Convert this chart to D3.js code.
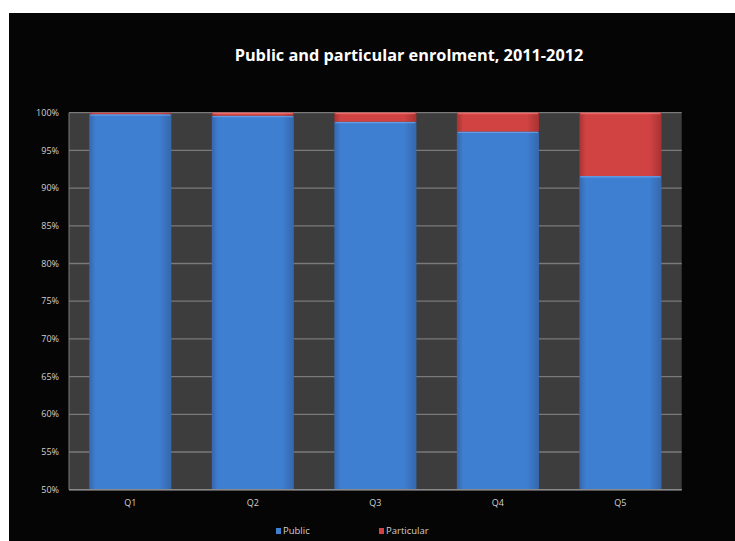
<!DOCTYPE html>
<html>
<head>
<meta charset="utf-8">
<script src="https://cdn.jsdelivr.net/npm/d3@7"></script>
<style>
  html, body { margin: 0; padding: 0; background: #fff; }
  svg text { font-family: "Open Sans", "Liberation Sans", sans-serif; }
</style>
</head>
<body>
<svg id="chart" width="735" height="541"></svg>
<script>
const categories = ["Q1", "Q2", "Q3", "Q4", "Q5"];
const publicShare = [99.8, 99.6, 98.8, 97.5, 91.6];
const particularShare = [0.2, 0.4, 1.2, 2.5, 8.4];
const yTicks = [50, 55, 60, 65, 70, 75, 80, 85, 90, 95, 100];
const seriesNames = ["Public", "Particular"];

const svg = d3.select("svg#chart");

// black card with thin white margin top/left
svg.append("rect")
  .attr("x", 9).attr("y", 13)
  .attr("width", 735 - 9).attr("height", 541 - 13)
  .attr("fill", "#050505");

const plot = { left: 69, top: 112.7, right: 681.7, bottom: 489.7 };

const x = d3.scaleBand()
  .domain(categories)
  .range([plot.left, plot.right])
  .paddingInner(0.33)
  .paddingOuter(0.165);

const y = d3.scaleLinear()
  .domain([50, 100])
  .range([plot.bottom, plot.top]);

// gradients
const defs = svg.append("defs");
function barGradient(id, edge, mid) {
  const g = defs.append("linearGradient").attr("id", id)
    .attr("x1", "0%").attr("x2", "100%").attr("y1", "0%").attr("y2", "0%");
  g.append("stop").attr("offset", "0%").attr("stop-color", edge);
  g.append("stop").attr("offset", "8%").attr("stop-color", mid);
  g.append("stop").attr("offset", "85%").attr("stop-color", mid);
  g.append("stop").attr("offset", "100%").attr("stop-color", edge);
}
barGradient("gradBlue", "#3567ad", "#3f7fd1");
barGradient("gradRed", "#a83232", "#d14343");

// plot background
svg.append("rect")
  .attr("x", plot.left).attr("y", plot.top)
  .attr("width", plot.right - plot.left)
  .attr("height", plot.bottom - plot.top)
  .attr("fill", "#3d3d3d");

// grid lines
svg.append("g").selectAll("line")
  .data(yTicks)
  .enter().append("line")
  .attr("x1", plot.left).attr("x2", plot.right)
  .attr("y1", d => y(d)).attr("y2", d => y(d))
  .attr("stroke", "#7a7a7a")
  .attr("stroke-width", 1.3);

// left axis line
svg.append("line")
  .attr("x1", plot.left).attr("x2", plot.left)
  .attr("y1", plot.top).attr("y2", plot.bottom)
  .attr("stroke", "#7a7a7a").attr("stroke-width", 1);

// y tick labels
svg.append("g").selectAll("text")
  .data(yTicks)
  .enter().append("text")
  .attr("x", plot.left - 10)
  .attr("y", d => y(d))
  .attr("dy", "0.35em")
  .attr("text-anchor", "end")
  .attr("fill", "#d0d0d0")
  .style("font-size", "9px")
  .text(d => d + "%");

// bars
const bars = svg.append("g");
categories.forEach(function(c, i) {
  let bx = x(c), bw = x.bandwidth();
  let p = publicShare[i];
  let q = particularShare[i];
  bars.append("rect")
    .attr("x", bx).attr("y", y(p))
    .attr("width", bw).attr("height", y(50) - y(p))
    .attr("fill", "url(#gradBlue)");
  bars.append("rect")
    .attr("x", bx + 1).attr("y", y(p))
    .attr("width", bw - 2).attr("height", 1.5)
    .attr("fill", "#6aa5ea").attr("opacity", 0.8);
  bars.append("rect")
    .attr("x", bx).attr("y", y(p + q))
    .attr("width", bw).attr("height", y(p) - y(p + q))
    .attr("fill", "url(#gradRed)");
  if (y(p) - y(p + q) > 3) {
    bars.append("rect")
      .attr("x", bx + 1).attr("y", y(p + q))
      .attr("width", bw - 2).attr("height", 1.5)
      .attr("fill", "#f07070").attr("opacity", 0.8);
  }
});

// bottom axis line
svg.append("line")
  .attr("x1", plot.left).attr("x2", plot.right)
  .attr("y1", plot.bottom).attr("y2", plot.bottom)
  .attr("stroke", "#8a8a8a").attr("stroke-width", 1.5);

// category labels
svg.append("g").selectAll("text")
  .data(categories)
  .enter().append("text")
  .attr("x", d => x(d) + x.bandwidth() / 2)
  .attr("y", 503)
  .attr("dy", "0.35em")
  .attr("text-anchor", "middle")
  .attr("fill", "#d0d0d0")
  .style("font-size", "9px")
  .text(d => d);

// title
svg.append("text")
  .attr("x", 409).attr("y", 55)
  .attr("dy", "0.35em")
  .attr("text-anchor", "middle")
  .attr("fill", "#ffffff")
  .style("font-size", "16.3px")
  .style("font-weight", "bold")
  .text("Public and particular enrolment, 2011-2012");

// legend
const legendColors = ["#3f7fd1", "#d14343"];
const legendX = [276, 379];
const legend = svg.append("g");
seriesNames.forEach(function(name, i) {
  legend.append("rect")
    .attr("x", legendX[i]).attr("y", 528)
    .attr("width", 5).attr("height", 6)
    .attr("fill", legendColors[i]);
  legend.append("text")
    .attr("x", legendX[i] + 7).attr("y", 531)
    .attr("dy", "0.35em")
    .attr("fill", "#d0d0d0")
    .style("font-size", "9.5px")
    .text(name);
});
</script>
</body>
</html>
